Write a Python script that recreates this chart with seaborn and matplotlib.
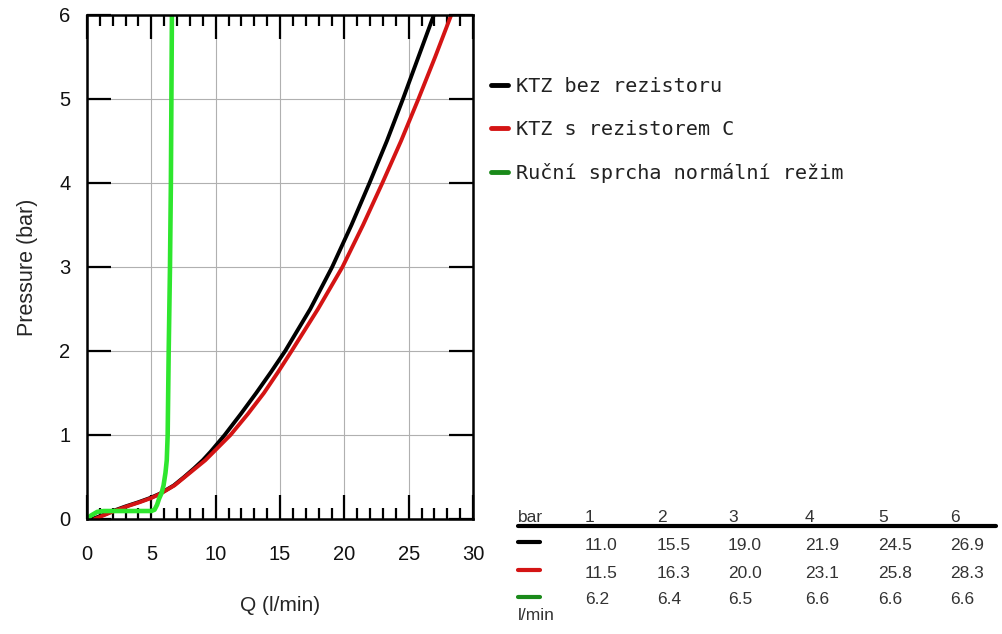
import numpy as np
import pandas as pd
import matplotlib
matplotlib.use("Agg")
import matplotlib.pyplot as plt
from matplotlib.lines import Line2D
from matplotlib.ticker import MultipleLocator
import seaborn as sns

# curves: pressure (bar) and flow (l/min)
pressure_ktz = [0, 0.05, 0.1, 0.15, 0.2, 0.25, 0.3, 0.4, 0.5, 0.6, 0.7, 0.8, 0.9, 1.0,
                1.25, 1.5, 1.75, 2, 2.5, 3, 3.5, 4, 4.5, 5, 5.5, 6]
flow_bez = [0.4, 1.3, 2.1, 3.0, 4.0, 4.9, 5.65, 6.75, 7.55, 8.3, 9.0, 9.6, 10.15, 10.7,
            11.95, 13.15, 14.3, 15.4, 17.35, 19.05, 20.55, 21.95, 23.3, 24.55, 25.75, 26.95]
flow_rez = [0.6, 1.4, 2.2, 3.1, 4.1, 5.0, 5.7, 6.8, 7.6, 8.4, 9.2, 9.85, 10.5, 11.15,
            12.5, 13.75, 14.85, 15.9, 17.95, 19.85, 21.45, 22.95, 24.4, 25.75, 27.05, 28.3]
pressure_sprcha = [0, 0.04, 0.085, 0.095, 0.095, 0.095, 0.11, 0.17, 0.24, 0.31, 0.4,
                   0.55, 0.7, 1.0, 2, 3, 4, 5, 6]
flow_sprcha = [0.0, 0.3, 0.8, 1.3, 3.0, 5.0, 5.25, 5.45, 5.6, 5.8, 5.95,
               6.1, 6.2, 6.27, 6.35, 6.45, 6.52, 6.56, 6.6]

series_names = ["KTZ bez rezistoru", "KTZ s rezistorem C", "Ruční sprcha normální režim"]
line_colors = ["#000000", "#d41414", "#2ee62e"]
legend_colors = ["#000000", "#d41414", "#1a8a1a"]

# table under the legend
table_bar = [1, 2, 3, 4, 5, 6]
table_bez = ["11.0", "15.5", "19.0", "21.9", "24.5", "26.9"]
table_rez = ["11.5", "16.3", "20.0", "23.1", "25.8", "28.3"]
table_sprcha = ["6.2", "6.4", "6.5", "6.6", "6.6", "6.6"]

df = pd.concat([
    pd.DataFrame({"Q": flow_bez, "p": pressure_ktz, "s": series_names[0]}),
    pd.DataFrame({"Q": flow_rez, "p": pressure_ktz, "s": series_names[1]}),
    pd.DataFrame({"Q": flow_sprcha, "p": pressure_sprcha, "s": series_names[2]}),
], ignore_index=True)

sns.set_style("white")
plt.rcParams["font.family"] = ["Liberation Sans", "DejaVu Sans"]

fig = plt.figure(figsize=(10.03, 6.34), dpi=100)
ax = fig.add_axes([0.0867, 0.1814, 0.385, 0.795])

sns.lineplot(data=df, x="Q", y="p", hue="s", palette=dict(zip(series_names, line_colors)),
             sort=False, estimator=None, linewidth=2.8, legend=False, ax=ax)
# the shower curve is drawn a bit heavier
ax.lines[2].set_linewidth(3.3)

ax.set_xlim(0, 30)
ax.set_ylim(0, 6)
ax.xaxis.set_major_locator(MultipleLocator(5))
ax.xaxis.set_minor_locator(MultipleLocator(1))
ax.yaxis.set_major_locator(MultipleLocator(1))
ax.tick_params(which="major", direction="in", length=17, width=1.6,
               bottom=True, left=True, top=True, right=True,
               labelsize=14.5, color="black", labelcolor="#111111")
ax.tick_params(axis="x", which="major", pad=19)
ax.tick_params(axis="y", which="major", pad=12)
ax.tick_params(which="minor", axis="x", direction="in", length=8, width=1.6,
               bottom=True, top=True, color="black")
ax.grid(True, which="major", color="#b0b0b0", linewidth=0.8)
for sp in ax.spines.values():
    sp.set_color("black")
    sp.set_linewidth(1.8)
ax.set_xlabel("Q (l/min)", fontsize=15, labelpad=23)
ax.set_ylabel("Pressure (bar)", fontsize=15.5, labelpad=15)

handles = [Line2D([], [], color=c, linewidth=3.5) for c in legend_colors]
fig.legend(handles, series_names, loc="upper left", bbox_to_anchor=(0.471, 0.907),
           frameon=False, handlelength=0.85, handletextpad=0.4, labelspacing=1.18,
           prop={"family": "DejaVu Sans Mono", "size": 14.5}, labelcolor="#222222")

# table drawn in figure pixels
def fx(px):
    return px / 1003

def fy(py):
    return 1 - py / 634

col_x = [585, 657, 728, 805, 878, 950]
tkw = dict(fontsize=12.5, color="#333333", va="center", ha="left")
fig.text(fx(518), fy(517), "bar", **tkw)
for x, b in zip(col_x, table_bar):
    fig.text(fx(x), fy(517), str(b), **tkw)
fig.add_artist(Line2D([fx(518), fx(996)], [fy(526), fy(526)], color="black", linewidth=3))
rows = [table_bez, table_rez, table_sprcha]
row_y = [545, 573, 600]
for vals, y, c in zip(rows, row_y, legend_colors):
    fig.add_artist(Line2D([fx(518), fx(540)], [fy(y - 3), fy(y - 3)], color=c, linewidth=3))
    for x, v in zip(col_x, vals):
        fig.text(fx(x), fy(y), v, **tkw)
fig.text(fx(518), fy(616), "l/min", **tkw)

fig.savefig("out.png", dpi=100)
